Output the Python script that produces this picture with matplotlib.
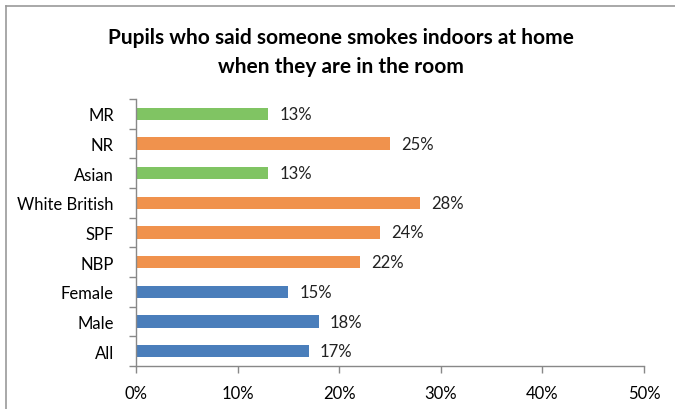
import matplotlib
matplotlib.use('Agg')
import matplotlib.pyplot as plt
from matplotlib.lines import Line2D

# bottom to top
cats = ['All', 'Male', 'Female', 'NBP', 'SPF', 'White British', 'Asian', 'NR', 'MR']
vals = [17, 18, 15, 22, 24, 28, 13, 25, 13]
groups = ['gender', 'gender', 'gender', 'eth', 'eth', 'eth', 'other', 'eth', 'other']
col = {'gender': '#4A7EBB', 'eth': '#F0924D', 'other': '#80C463'}
xticks = [0, 10, 20, 30, 40, 50]

plt.rcParams['font.family'] = ['Lato', 'DejaVu Sans']
fig = plt.figure(figsize=(6.75, 4.1), dpi=100)
ax = fig.add_axes([136/675, 1-367/410, (644-136)/675, (367-100)/410])

ys = range(len(cats))
ax.barh(ys, vals, height=0.42, color=[col[g] for g in groups])
for y, v in zip(ys, vals):
    ax.text(v + 1.1, y, f'{v}%', va='center', ha='left', fontsize=12, color='#222222')

ax.set_xlim(0, 50)
ax.set_ylim(-0.5, len(cats) - 0.5)
ax.set_xticks(xticks)
ax.set_xticklabels([f'{t}%' for t in xticks], fontsize=12)
ax.set_yticks(list(ys))
ax.set_yticklabels(cats, fontsize=12)
ax.set_yticks([i - 0.5 for i in range(len(cats) + 1)], minor=True)
ax.tick_params(axis='y', which='major', length=0, pad=16)
ax.tick_params(axis='y', which='minor', length=5, color='#888888', width=1)
ax.tick_params(axis='x', length=5, color='#888888', width=1, pad=9)
for s in ['top', 'right']:
    ax.spines[s].set_visible(False)
for s in ['left', 'bottom']:
    ax.spines[s].set_color('#888888')
    ax.spines[s].set_linewidth(1)

fig.text(0.505, 0.872, 'Pupils who said someone smokes indoors at home\nwhen they are in the room',
         ha='center', va='center', fontsize=15, fontweight='bold', linespacing=1.55)

# chart border (only left and top visible in the crop)
fig.add_artist(Line2D([6/675, 6/675], [0, 1 - 7/410], transform=fig.transFigure,
                      color='#999999', linewidth=1.2))
fig.add_artist(Line2D([6/675, 1], [1 - 7/410, 1 - 7/410], transform=fig.transFigure,
                      color='#999999', linewidth=1.2))

fig.savefig('out.png', dpi=100)
